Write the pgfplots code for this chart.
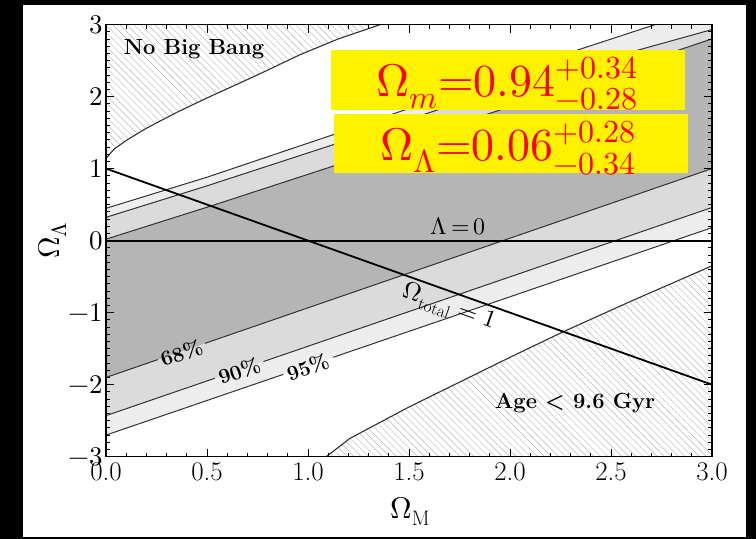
\documentclass[border=0pt]{standalone}
\usepackage{pgfplots}
\pgfplotsset{compat=1.18}
\usepackage{unicode-math}
\usetikzlibrary{patterns.meta}
\definecolor{gA}{gray}{0.71}
\definecolor{gB}{gray}{0.86}
\definecolor{gC}{gray}{0.93}
\definecolor{hatch}{gray}{0.72}
\begin{document}
\begin{tikzpicture}
\path[use as bounding box, fill=black] (0,0) rectangle (756bp,539bp);
\fill[white] (23bp,2bp) rectangle (746bp,534bp);
\begin{axis}[
  at={(106bp,82.3bp)}, anchor=south west,
  scale only axis, width=606bp, height=432.2bp,
  xmin=0, xmax=3, ymin=-3, ymax=3,
  xtick={0,0.5,1,1.5,2,2.5,3},
  xticklabels={0.0,0.5,1.0,1.5,2.0,2.5,3.0},
  ytick={-3,-2,-1,0,1,2,3},
  minor x tick num=4, minor y tick num=9,
  tick align=inside,
  major tick length=8bp, minor tick length=4bp,
  every tick/.style={black, line width=0.8bp},
  axis line style={line width=1.2bp},
  tick label style={font=\fontsize{27}{28}\selectfont},
  xticklabel style={yshift=-3bp},
  xlabel={$\Omega_{\mathrm{M}}$},
  ylabel={$\Omega_{\Lambda}$},
  xlabel style={font=\fontsize{30}{30}\selectfont, at={(axis description cs:0.502,-0.126)}, anchor=center},
  ylabel style={font=\fontsize{30}{30}\selectfont, at={(axis description cs:-0.088,0.5)}, anchor=center},
  clip=true,
  axis on top,
]
% 95% region
\addplot[fill=gC, draw=none] coordinates {(0,0.448) (0.5,0.88) (1.12,1.466) (2.35,2.66) (2.72,3.0) (3,3.0) (3,0.18) (0,-2.70)} -- cycle;
% 90% region
\addplot[fill=gB, draw=none] coordinates {(0,0.323) (0.5,0.76) (1.12,1.327) (2.0,2.15) (3,2.93) (3,0.46) (0,-2.43)} -- cycle;
% 68% region
\addplot[fill=gA, draw=none] coordinates {(0,0.02) (0.53,0.49) (1.12,1.03) (2.0,1.86) (3,2.80) (3,1.0) (0,-1.9)} -- cycle;
% No Big Bang region
\addplot[draw=none, fill=white, postaction={pattern={Lines[angle=-45, distance=5pt, line width=0.45pt]}, pattern color=hatch}]
  coordinates {(0,1.14) (0.04,1.27) (0.1,1.39) (0.2,1.56) (0.35,1.78) (0.5,1.98) (0.75,2.30) (0.96,2.58) (1.15,2.80) (1.36,3.0) (0,3.0)} -- cycle;
% Age region
\addplot[draw=none, fill=white, postaction={pattern={Lines[angle=-45, distance=5pt, line width=0.45pt]}, pattern color=hatch}]
  coordinates {(1.09,-3) (1.208,-2.745) (1.5,-2.31) (2.0,-1.62) (2.264,-1.265) (2.6,-0.84) (3,-0.35) (3,-3)} -- cycle;
% contour lines
\addplot[black!80, line width=1bp] coordinates {(0,0.448) (0.5,0.88) (1.12,1.466) (2.35,2.66) (2.72,3.0)};
\addplot[black!80, line width=1bp] coordinates {(0,0.323) (0.5,0.76) (1.12,1.327) (2.0,2.15) (3,2.93)};
\addplot[black!80, line width=1bp] coordinates {(0,0.02) (0.53,0.49) (1.12,1.03) (2.0,1.86) (3,2.80)};
\addplot[black!80, line width=1bp] coordinates {(0,-1.9) (0.257,-1.6516)};
\addplot[black!80, line width=1bp] coordinates {(0.49,-1.4263) (3,1.0)};
\addplot[black!80, line width=1bp] coordinates {(0,-2.43) (0.54,-1.9098)};
\addplot[black!80, line width=1bp] coordinates {(0.78,-1.6786) (3,0.46)};
\addplot[black!80, line width=1bp] coordinates {(0,-2.70) (0.878,-1.857)};
\addplot[black!80, line width=1bp] coordinates {(1.125,-1.62) (3,0.18)};
% boundaries
\addplot[black!80, line width=1.1bp] coordinates {(0,1.14) (0.04,1.27) (0.1,1.39) (0.2,1.56) (0.35,1.78) (0.5,1.98) (0.75,2.30) (0.96,2.58) (1.15,2.80) (1.36,3.0)};
\addplot[black!80, line width=1.1bp] coordinates {(1.09,-3) (1.208,-2.745) (1.5,-2.31) (2.0,-1.62) (2.264,-1.265) (2.6,-0.84) (3,-0.35)};
% Lambda = 0 and Omega_total = 1
\addplot[black, line width=1.8bp] coordinates {(0,0) (3,0)};
\addplot[black, line width=1.8bp] coordinates {(0,1) (3,-2)};
% labels
\node[rotate=19, font=\bfseries\fontsize{21}{21}\selectfont] at (axis cs:0.374,-1.56) {68\%};
\node[rotate=19, font=\bfseries\fontsize{21}{21}\selectfont] at (axis cs:0.66,-1.81) {90\%};
\node[rotate=19, font=\bfseries\fontsize{21}{21}\selectfont] at (axis cs:1.0,-1.76) {95\%};
\node[rotate=-19.6, font=\fontsize{25}{25}\selectfont, inner sep=0pt] at (axis cs:1.70,-0.93) {$\Omega_{\mathrm{total}}\;{=}\;1$};
\node[font=\fontsize{24}{24}\selectfont] at (axis cs:1.743,0.196) {$\Lambda\,{=}\,0$};
\node[font=\bfseries\fontsize{22}{22}\selectfont] at (axis cs:0.436,2.655) {No Big Bang};
\node[font=\bfseries\fontsize{22}{22}\selectfont] at (axis cs:2.322,-2.26) {Age < 9.6 Gyr};
\end{axis}
\fill[yellow] (331bp,429bp) rectangle (685bp,489bp);
\node[anchor=base, text=red, font=\fontsize{46}{46}\selectfont, inner sep=0pt] at (507bp,442bp) {$\Omega_m{=}0.94^{+0.34}_{-0.28}$};
\fill[yellow] (334bp,366bp) rectangle (688bp,425bp);
\node[anchor=base, text=red, font=\fontsize{46}{46}\selectfont, inner sep=0pt] at (508bp,378bp) {$\Omega_\Lambda{=}0.06^{+0.28}_{-0.34}$};
\end{tikzpicture}
\end{document}
